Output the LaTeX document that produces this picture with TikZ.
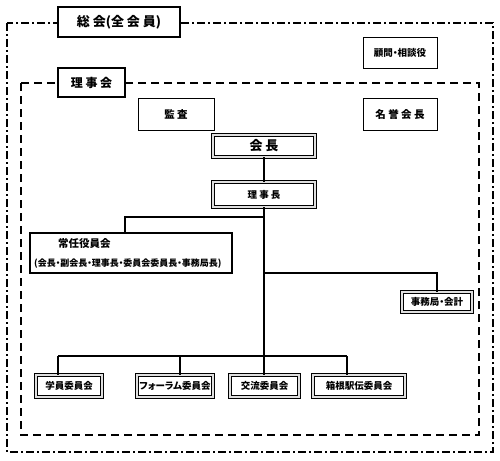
\documentclass[tikz,border=0pt]{standalone}
\usepackage{fontspec}
\setmainfont{Noto Sans CJK JP}[RawFeature=+palt]
\begin{document}
\begin{tikzpicture}[x=1pt,y=-1pt,
  box/.style={draw=black,line width=1pt,inner sep=0pt,anchor=center,fill=white},
  thick box/.style={box,line width=1.6pt},
  dbox/.style={draw=black,line width=0.9pt,double=gray!25,double distance=1.6pt,inner sep=0pt,anchor=center},
  conn/.style={line width=1.6pt},
  lbl/.style={font=\fontsize{9.5}{11}\selectfont\bfseries}
]
\useasboundingbox (0,0) rectangle (500,460);
% frames
\draw[line width=1.6pt,dash pattern=on 8pt off 3pt on 2pt off 3pt] (7,23) rectangle (493,452);
\draw[line width=1.6pt,dash pattern=on 8pt off 5pt] (21,83) rectangle (479,435);
% title boxes
\node[thick box,minimum width=122,minimum height=30,font=\fontsize{13}{15}\selectfont\bfseries] (soukai) at (119,22) {総 会(全 会 員)};
\node[thick box,minimum width=67,minimum height=29,font=\fontsize{12}{14}\selectfont\bfseries] (rijikai) at (91.5,82.5) {理 事 会};
\node[box,minimum width=76,minimum height=32,font=\fontsize{10.5}{12}\selectfont\bfseries] (kansa) at (176,114) {監 査};
\node[box,minimum width=74,minimum height=30,lbl] (komon) at (400,53) {顧問・相談役};
\node[box,minimum width=74,minimum height=32,font=\fontsize{10.5}{12}\selectfont\bfseries] (meiyo) at (400,114) {名 誉 会 長};
% chain
\node[dbox,minimum width=102,minimum height=22,font=\fontsize{13}{15}\selectfont\bfseries] (kaicho) at (264,146) {会 長};
\node[dbox,minimum width=102,minimum height=25,lbl] (rijicho) at (264,194.5) {理 事 長};
\node[thick box,minimum width=202,minimum height=40] (jonin) at (131,253) {};
\node[font=\fontsize{10.5}{12}\selectfont\bfseries,anchor=west,inner sep=0pt] (jonin1) at (58,244) {常任役員会};
\node[font=\fontsize{9}{10}\selectfont\bfseries,anchor=west,inner sep=0pt] (jonin2) at (34,264) {(会長・副会長・理事長・委員会委員長・事務局長)};
\node[dbox,minimum width=70,minimum height=20,lbl] (jimu) at (437,302) {事務局・会計};
\node[dbox,minimum width=66,minimum height=22,lbl] (gakuin) at (69,386) {学員委員会};
\node[dbox,minimum width=76,minimum height=22,lbl] (forum) at (175,386) {フォーラム委員会};
\node[dbox,minimum width=69,minimum height=22,lbl] (koryu) at (264.5,386) {交流委員会};
\node[dbox,minimum width=92,minimum height=22,lbl] (hakone) at (359,386) {箱根駅伝委員会};
% connector coordinates
\coordinate (c1) at (264,217);
\coordinate (c2) at (264,273);
\coordinate (c3) at (264,356);
\coordinate (j1) at (125,217);
\coordinate (b1) at (58,356);
\coordinate (b2) at (180,356);
\coordinate (b4) at (347,356);
\draw[conn] (kaicho.south) -- (rijicho.north);
\draw[conn] (rijicho.south) -- (c3);
\draw[conn] (c1) -- (j1) -- (j1 |- jonin.north);
\draw[conn] (c2) -| (jimu.north);
\draw[conn] (b1) -- (b4);
\draw[conn] (b1) -- (b1 |- gakuin.north);
\draw[conn] (b2) -- (b2 |- forum.north);
\draw[conn] (c3) -- (koryu.north -| c3);
\draw[conn] (b4) -- (b4 |- hakone.north);
\end{tikzpicture}
\end{document}
